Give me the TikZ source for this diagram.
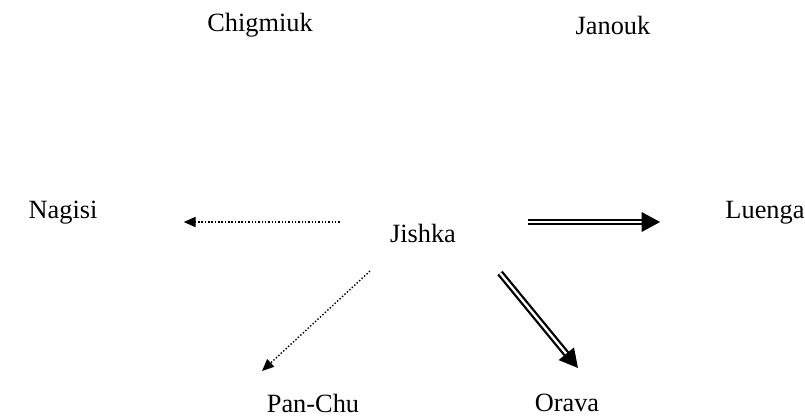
\documentclass[tikz,border=0pt]{standalone}
\usepackage{fontspec}
\setmainfont{Liberation Serif}
\usetikzlibrary{arrows.meta, calc}

\begin{document}
\begin{tikzpicture}[
  x=0.02cm, y=-0.02cm,
  place/.style={inner sep=0pt, font=\fontsize{15}{18}\selectfont},
  dotarrow/.style={-{Triangle[length=6.8pt, width=5.8pt]}, line width=0.8pt,
                   dash pattern=on 0.8pt off 1.1pt},
  dblarrow/.style={-{Triangle[length=10.5pt, width=11pt]}, line width=1.3pt,
                   double, double distance=1.3pt}
]
\useasboundingbox (0,0) rectangle (805,419);

\node[place] (chigmiuk) at (260,25) {Chigmiuk};
\node[place] (janouk) at (613,25) {Janouk};
\node[place] (nagisi) at (63,213) {Nagisi};
\node[place] (jishka) at (423,233) {Jishka};
\node[place] (luenga) at (765,213) {Luenga};
\node[place] (panchu) at (313,403) {Pan-Chu};
\node[place] (orava) at (567,403) {Orava};

% connectors from Jishka
\draw[dotarrow] ([shift={(-50,-11)}]jishka.west) -- ([shift={(86,-11)}]jishka.west -| nagisi.east);
\draw[dblarrow] ([shift={(72,-11)}]jishka.east) -- ([shift={(-65,-11)}]jishka.east -| luenga.west);
\draw[dotarrow] ([shift={(-53,38)}]jishka.center) -- ([shift={(-51,-32)}]panchu.center);
\draw[dblarrow] ([shift={(77,40)}]jishka.center) -- ([shift={(11,-35)}]orava.center);
\end{tikzpicture}
\end{document}
